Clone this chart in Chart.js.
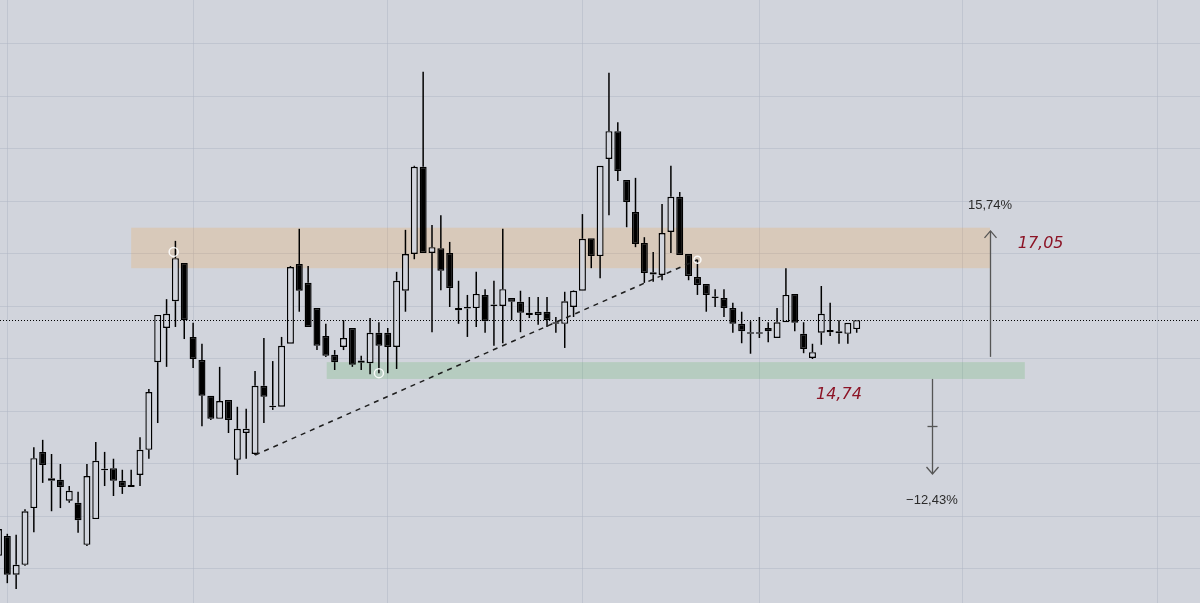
<!DOCTYPE html>
<html><head><meta charset="utf-8">
<script src="https://cdn.jsdelivr.net/npm/chart.js@4.4.1/dist/chart.umd.min.js"></script>
<style>html,body{margin:0;padding:0;background:#d1d4dc;overflow:hidden}canvas{display:block}</style>
</head><body>
<canvas id="c" width="1200" height="603"></canvas>
<script>
// ---- data (bar index starts at firstIndex) ----
const firstIndex = -1;
const opens  = [11.25,11.63,10.89,11.08,12.16,13.23,12.73,12.70,12.30,12.26,11.46,11.95,12.91,12.92,12.68,12.56,12.79,13.27,14.94,15.59,16.10,16.83,15.42,14.98,14.30,13.86,14.22,13.08,13.59,13.19,14.49,14.11,14.09,15.29,16.81,16.45,15.97,15.44,15.08,15.23,15.59,14.97,14.92,15.50,15.50,15.23,16.30,17.00,18.66,17.02,17.11,17.02,15.93,15.99,15.97,16.22,16.04,16.01,16.16,16.09,15.88,15.84,15.90,15.70,15.67,15.99,16.30,17.30,16.96,18.81,19.34,18.41,17.80,17.21,16.65,16.60,17.42,18.09,17.00,16.56,16.43,16.19,16.16,15.97,15.67,15.51,15.48,15.59,15.40,15.70,16.24,15.48,15.02,15.50,15.55,15.53,15.48,15.57];
const highs  = [11.93,11.67,11.65,12.14,13.32,13.46,13.19,13.00,12.58,12.47,13.00,13.42,13.23,13.10,12.89,12.89,13.51,14.43,15.84,16.14,17.25,16.83,15.69,15.29,14.30,14.85,14.22,14.09,14.05,14.77,15.40,14.96,15.42,16.77,17.48,16.77,15.97,15.67,15.17,15.74,15.59,15.06,15.78,15.70,15.59,16.66,17.46,18.68,20.47,17.55,17.74,17.23,16.49,16.22,16.66,16.33,16.49,17.48,16.16,16.30,16.18,16.18,16.18,15.80,16.28,16.31,17.76,17.30,18.68,20.45,19.51,18.41,18.45,17.32,17.04,17.95,18.68,18.18,17.00,16.89,16.43,16.33,16.33,16.07,15.90,15.72,15.80,15.70,15.97,16.73,16.24,15.70,15.29,16.39,16.07,15.74,15.69,15.74];
const lows   = [11.17,10.73,10.62,11.06,11.70,12.64,12.10,12.16,12.26,11.69,11.44,11.95,12.58,12.39,12.43,12.56,12.58,13.10,13.78,14.85,15.61,15.38,14.83,13.72,13.84,13.86,13.59,12.79,13.10,13.17,13.78,14.03,14.09,15.29,15.90,15.61,15.17,15.04,14.79,15.17,14.85,14.79,14.71,14.73,14.73,14.81,15.90,16.90,17.02,15.51,16.31,15.99,15.67,15.42,15.61,15.50,15.25,15.30,15.74,15.51,15.78,15.65,15.61,15.50,15.21,15.80,16.30,16.73,16.54,17.74,18.39,17.51,17.13,16.45,16.47,16.50,17.02,16.98,16.50,16.22,15.90,15.99,15.80,15.50,15.30,15.10,15.40,15.32,15.40,15.70,15.53,15.11,15.00,15.27,15.44,15.29,15.29,15.50];
const closes = [11.76,10.89,11.08,12.10,13.11,12.98,12.68,12.56,12.49,11.93,12.77,13.06,12.88,12.68,12.56,12.60,13.27,14.37,15.84,15.86,16.92,15.74,15.00,14.30,13.86,14.20,13.84,13.67,13.67,14.49,14.28,14.08,15.25,16.75,16.30,15.61,15.25,15.06,14.94,15.40,14.89,14.93,15.50,15.25,15.23,16.49,17.00,18.66,17.02,17.13,16.68,16.35,15.97,15.96,16.24,15.72,16.01,16.33,16.09,15.88,15.84,15.90,15.74,15.67,16.10,16.30,17.29,16.96,18.68,19.34,18.58,17.99,17.19,16.64,16.61,17.40,18.09,16.98,16.58,16.41,16.22,16.16,15.97,15.67,15.53,15.48,15.51,15.53,15.70,16.22,15.69,15.19,15.13,15.86,15.51,15.49,15.69,15.74];

// vertical grid (month starts, bar index) and horizontal grid (price)
const monthStartIndices = [0, 21, 43, 65, 85, 108, 130];
const priceGridLevels = [11, 12, 13, 14, 15, 16, 17, 18, 19, 20, 21];
const lastPrice = 15.74;

// drawings
const resistanceZone = [17.50, 16.73];
const resistanceSpan = [14, 111.07];
const supportZone = [14.94, 14.62];
const supportSpan = [36.1, 115.0];
const trendStart = [28, 13.17];
const trendEnd = [78, 16.89];
const anchorPoints = [[18.8, 17.04], [42, 14.73], [78, 16.89]];
const upMove = [111.07, 15.04, 17.44];
const downMove = [104.5, 14.62, 12.81];
const moveLabels = ['15,74%', '\u221212,43%'];
const moveLabelPos = [[111.07, 17.93], [104.5, 12.31]];
const levelLabels = ['17,05', '14,74'];
const levelLabelPos = [[114.2, 17.19], [91.4, 14.31]];

// ---- build datasets ----
const BG = '#d1d4dc';
const GRID = 'rgba(176,182,196,0.5)';
const upperWick = [], lowerWick = [], bodies = [], bodyFill = [];
for (let k = 0; k < opens.length; k++) {
  const x = firstIndex + k;
  const o = opens[k], c = closes[k], h = highs[k], l = lows[k];
  const top = Math.max(o, c), bot = Math.min(o, c);
  upperWick.push(h > top ? {x, y: [top, h]} : {x, y: null});
  lowerWick.push(l < bot ? {x, y: [l, bot]} : {x, y: null});
  bodies.push({x, y: [o, c]});
  bodyFill.push(c >= o ? BG : '#000000');
}

const drawings = {
  id: 'drawings',
  beforeDatasetsDraw(chart) {
    const {ctx, scales: {x, y}} = chart;
    ctx.save();
    ctx.fillStyle = 'rgba(255,150,20,0.17)';
    ctx.fillRect(x.getPixelForValue(resistanceSpan[0]), y.getPixelForValue(resistanceZone[0]),
      x.getPixelForValue(resistanceSpan[1]) - x.getPixelForValue(resistanceSpan[0]),
      y.getPixelForValue(resistanceZone[1]) - y.getPixelForValue(resistanceZone[0]));
    ctx.fillStyle = 'rgba(76,175,80,0.2)';
    ctx.fillRect(x.getPixelForValue(supportSpan[0]), y.getPixelForValue(supportZone[0]),
      x.getPixelForValue(supportSpan[1]) - x.getPixelForValue(supportSpan[0]),
      y.getPixelForValue(supportZone[1]) - y.getPixelForValue(supportZone[0]));
    ctx.restore();
  },
  afterDatasetsDraw(chart) {
    const {ctx, chartArea, scales: {x, y}} = chart;
    ctx.save();
    // last price dotted line
    const py = Math.round(y.getPixelForValue(lastPrice)) + 0.5;
    ctx.strokeStyle = '#000';
    ctx.lineWidth = 1;
    ctx.setLineDash([1, 2]);
    ctx.beginPath(); ctx.moveTo(chartArea.left, py); ctx.lineTo(chartArea.right, py); ctx.stroke();
    // trend line
    ctx.setLineDash([5, 5]);
    ctx.strokeStyle = '#1e1e1e';
    ctx.lineWidth = 1.5;
    ctx.beginPath();
    ctx.moveTo(x.getPixelForValue(trendStart[0]), y.getPixelForValue(trendStart[1]));
    ctx.lineTo(x.getPixelForValue(trendEnd[0]), y.getPixelForValue(trendEnd[1]));
    ctx.stroke();
    ctx.setLineDash([]);
    // anchors
    ctx.strokeStyle = 'rgba(255,255,255,0.9)';
    ctx.lineWidth = 1.5;
    anchorPoints.forEach((p, i) => {
      ctx.beginPath();
      ctx.arc(x.getPixelForValue(p[0]), y.getPixelForValue(p[1]), i === 2 ? 3.5 : 4.5, 0, Math.PI * 2);
      ctx.stroke();
    });
    // arrows
    ctx.strokeStyle = '#555';
    ctx.lineWidth = 1.3;
    const arrow = (m, up) => {
      const ax = Math.round(x.getPixelForValue(m[0])) + 0.5;
      const y0 = y.getPixelForValue(m[1]), y1 = y.getPixelForValue(m[2]);
      ctx.beginPath(); ctx.moveTo(ax, y0); ctx.lineTo(ax, y1); ctx.stroke();
      const d = up ? 7 : -7;
      ctx.beginPath(); ctx.moveTo(ax - 6, y1 + d); ctx.lineTo(ax, y1); ctx.lineTo(ax + 6, y1 + d); ctx.stroke();
      return [ax, y0, y1];
    };
    arrow(upMove, true);
    const [dx, dy0, dy1] = arrow(downMove, false);
    const my = Math.round((dy0 + dy1) / 2) + 0.5;
    ctx.beginPath(); ctx.moveTo(dx - 5, my); ctx.lineTo(dx + 5, my); ctx.stroke();
    // percent labels
    ctx.fillStyle = '#2b2b2b';
    ctx.font = '13px "Liberation Sans", Arial, sans-serif';
    ctx.textAlign = 'center';
    ctx.textBaseline = 'middle';
    moveLabels.forEach((t, i) => ctx.fillText(t, x.getPixelForValue(moveLabelPos[i][0]), y.getPixelForValue(moveLabelPos[i][1])));
    // level labels
    ctx.fillStyle = '#8c1426';
    ctx.font = 'italic 16px "DejaVu Sans", sans-serif';
    ctx.textAlign = 'left';
    levelLabels.forEach((t, i) => ctx.fillText(t, x.getPixelForValue(levelLabelPos[i][0]), y.getPixelForValue(levelLabelPos[i][1])));
    ctx.restore();
  }
};

const bgPlugin = {
  id: 'bg',
  beforeDraw(chart) {
    const {ctx, width, height} = chart;
    ctx.save(); ctx.fillStyle = BG; ctx.fillRect(0, 0, width, height); ctx.restore();
  }
};

new Chart(document.getElementById('c'), {
  type: 'bar',
  data: {
    datasets: [
      {data: upperWick, backgroundColor: '#000', borderWidth: 0, barThickness: 1.5, grouped: false, inflateAmount: 0},
      {data: lowerWick, backgroundColor: '#000', borderWidth: 0, barThickness: 1.5, grouped: false, inflateAmount: 0},
      {data: bodies, backgroundColor: bodyFill, borderColor: '#000', borderWidth: 1.4, borderSkipped: false, barThickness: 7, grouped: false, inflateAmount: 0}
    ]
  },
  options: {
    responsive: false,
    devicePixelRatio: 1,
    animation: false,
    layout: {padding: 0},
    plugins: {legend: {display: false}, tooltip: {enabled: false}},
    scales: {
      x: {
        type: 'linear', min: -0.825, max: 134.8, offset: false,
        afterBuildTicks: s => { s.ticks = monthStartIndices.map(v => ({value: v})); },
        ticks: {display: false},
        grid: {color: GRID, drawTicks: false, offset: false},
        border: {display: false}
      },
      y: {
        type: 'linear', min: 10.352, max: 21.838,
        afterBuildTicks: s => { s.ticks = priceGridLevels.map(v => ({value: v})); },
        ticks: {display: false},
        grid: {color: GRID, drawTicks: false},
        border: {display: false}
      }
    }
  },
  plugins: [bgPlugin, drawings]
});
</script>
</body></html>
